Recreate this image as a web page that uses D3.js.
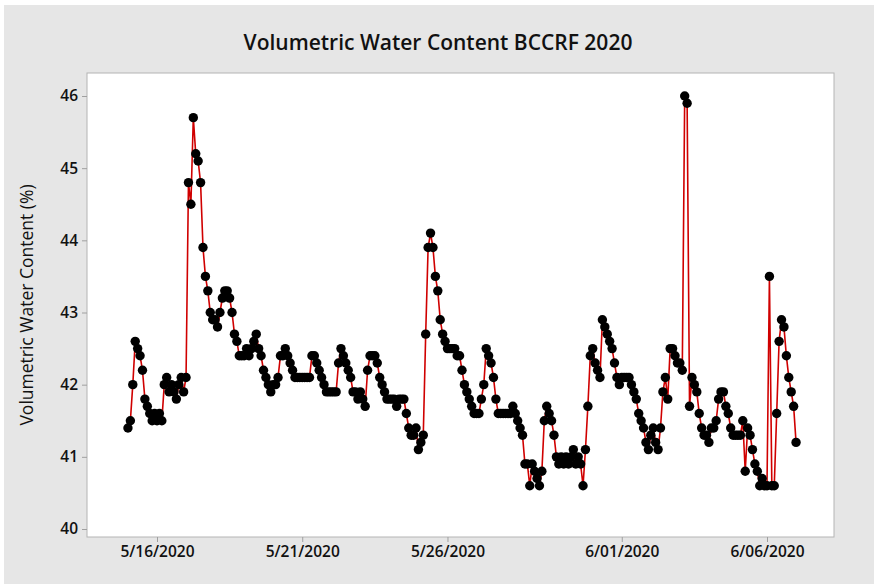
<!DOCTYPE html>
<html>
<head>
<meta charset="utf-8">
<script src="https://cdn.jsdelivr.net/npm/d3@7"></script>
<style>
  body { margin: 0; background: #fff; }
  svg { display: block; font-family: "Open Sans", "DejaVu Sans", sans-serif; }
</style>
</head>
<body>
<svg id="chart" width="876" height="584"></svg>
<script>
// podatki - vsebnost vode, meritev na 2 uri od 15.5.2020 00:00
var startTime = new Date(2020, 4, 15, 0, 0);
var stepHours = 2;

var week1 = [
  41.4, 41.5, 42.0, 42.6, 42.5, 42.4, 42.2, 41.8, 41.7, 41.6, 41.5, 41.6, // 5/15
  41.5, 41.6, 41.5, 42.0, 42.1, 41.9, 42.0, 41.9, 41.8, 42.0, 42.1, 41.9, // 5/16
  42.1, 44.8, 44.5, 45.7, 45.2, 45.1, 44.8, 43.9, 43.5, 43.3, 43.0, 42.9, // 5/17
  42.9, 42.8, 43.0, 43.2, 43.3, 43.3, 43.2, 43.0, 42.7, 42.6, 42.4, 42.4, // 5/18
  42.4, 42.5, 42.4, 42.5, 42.6, 42.7, 42.5, 42.4, 42.2, 42.1, 42.0, 41.9, // 5/19
  42.0, 42.0, 42.1, 42.4, 42.4, 42.5, 42.4, 42.3, 42.2, 42.1, 42.1, 42.1, // 5/20
  42.1, 42.1, 42.1, 42.1, 42.4, 42.4, 42.3, 42.2, 42.1, 42.0, 41.9, 41.9  // 5/21
];
var week2 = [
  41.9, 41.9, 41.9, 42.3, 42.5, 42.4, 42.3, 42.2, 42.1, 41.9, 41.9, 41.8, // 5/22
  41.9, 41.8, 41.7, 42.2, 42.4, 42.4, 42.4, 42.3, 42.1, 42.0, 41.9, 41.8, // 5/23
  41.8, 41.8, 41.8, 41.7, 41.8, 41.8, 41.8, 41.6, 41.4, 41.3, 41.3, 41.4, // 5/24
  41.1, 41.2, 41.3, 42.7, 43.9, 44.1, 43.9, 43.5, 43.3, 42.9, 42.7, 42.6, // 5/25
  42.5, 42.5, 42.5, 42.5, 42.4, 42.4, 42.2, 42.0, 41.9, 41.8, 41.7, 41.6, // 5/26
  41.6, 41.6, 41.8, 42.0, 42.5, 42.4, 42.3, 42.1, 41.8, 41.6, 41.6, 41.6, // 5/27
  41.6, 41.6, 41.6, 41.7, 41.6, 41.5, 41.4, 41.3, 40.9, 40.9, 40.6, 40.9  // 5/28
];
var week3 = [
  40.8, 40.7, 40.6, 40.8, 41.5, 41.7, 41.6, 41.5, 41.3, 41.0, 40.9, 41.0, // 5/29
  40.9, 41.0, 40.9, 41.0, 41.1, 40.9, 41.0, 40.9, 40.6, 41.1, 41.7, 42.4, // 5/30
  42.5, 42.3, 42.2, 42.1, 42.9, 42.8, 42.7, 42.6, 42.5, 42.3, 42.1, 42.0, // 5/31
  42.1, 42.1, 42.1, 42.1, 42.0, 41.9, 41.8, 41.6, 41.5, 41.4, 41.2, 41.1, // 6/01
  41.3, 41.4, 41.2, 41.1, 41.4, 41.9, 42.1, 41.8, 42.5, 42.5, 42.4, 42.3, // 6/02
  42.3, 42.2, 46.0, 45.9, 41.7, 42.1, 42.0, 41.9, 41.6, 41.4, 41.3, 41.3, // 6/03
  41.2, 41.4, 41.4, 41.5, 41.8, 41.9, 41.9, 41.7, 41.6, 41.4, 41.3, 41.3  // 6/04
];
var week4 = [
  41.3, 41.3, 41.5, 40.8, 41.4, 41.3, 41.1, 40.9, 40.8, 40.6, 40.7, 40.6, // 6/05
  40.6, 43.5, 40.6, 40.6, 41.6, 42.6, 42.9, 42.8, 42.4, 42.1, 41.9, 41.7, // 6/06
  41.2                                                                    // 6/07
];

var tickDates = [new Date(2020, 4, 16), new Date(2020, 4, 21), new Date(2020, 4, 26),
                 new Date(2020, 5, 1), new Date(2020, 5, 6)];
var tickLabels = ["5/16/2020", "5/21/2020", "5/26/2020", "6/01/2020", "6/06/2020"];
var yTicks = [40, 41, 42, 43, 44, 45, 46];

var title = "Volumetric Water Content BCCRF 2020";
var yLabel = "Volumetric Water Content (%)";

// --------------------------------------------------------------------------

var vwc = week1.concat(week2, week3, week4);
var data = vwc.map(function(v, i) {
  return { t: d3.timeHour.offset(startTime, i * stepHours), v: v };
});

var plot = { left: 87, top: 73, right: 834, bottom: 537 };

var svg = d3.select("#chart");

// sivo ozadje
svg.append("rect")
  .attr("x", 4).attr("y", 5)
  .attr("width", 870).attr("height", 584)
  .attr("fill", "#e6e6e6");

svg.append("rect")
  .attr("x", plot.left).attr("y", plot.top)
  .attr("width", plot.right - plot.left)
  .attr("height", plot.bottom - plot.top)
  .attr("fill", "#fff")
  .attr("stroke", "#b4b4b4")
  .attr("stroke-width", 1);

var x = d3.scaleTime()
  .domain([tickDates[0], tickDates[4]])
  .range([157, 767]);

var y = d3.scaleLinear()
  .domain([40, 46])
  .range([529, 96]);

// osi
var xAxis = svg.append("g")
  .attr("transform", `translate(0, ${plot.bottom})`)
  .call(d3.axisBottom(x).tickValues(tickDates)
    .tickFormat(function(d, i) { return tickLabels[i]; })
    .tickSize(5).tickPadding(4));

var yAxis = svg.append("g")
  .attr("transform", `translate(${plot.left}, 0)`)
  .call(d3.axisLeft(y).tickValues(yTicks).tickFormat(d3.format("d"))
    .tickSize(5).tickPadding(4));

[xAxis, yAxis].forEach(function(a) {
  a.select(".domain").remove();
  a.selectAll(".tick line").attr("stroke", "#a0a0a0");
  a.selectAll(".tick text")
    .attr("fill", "#111")
    .style("font-size", "15.5px")
    .style("font-weight", "600")
    .style("font-family", "'Open Sans', sans-serif");
});

// crta in tocke
var line = d3.line()
  .x(function(d) { return x(d.t); })
  .y(function(d) { return y(d.v); });

svg.append("path")
  .datum(data)
  .attr("fill", "none")
  .attr("stroke", "#d00000")
  .attr("stroke-width", 1.6)
  .attr("d", line);

svg.append("g")
  .selectAll("circle")
  .data(data)
  .enter().append("circle")
    .attr("cx", function(d) { return x(d.t); })
    .attr("cy", function(d) { return y(d.v); })
    .attr("r", 4.7)
    .attr("fill", "#000");

// naslovi
svg.append("text")
  .attr("x", 438)
  .attr("y", 50)
  .attr("text-anchor", "middle")
  .style("font-size", "21px")
  .style("font-weight", "600")
  .style("fill", "#111")
  .text(title);

svg.append("text")
  .attr("transform", "translate(33, 305) rotate(-90)")
  .attr("text-anchor", "middle")
  .style("font-size", "17.5px")
  .style("fill", "#111")
  .text(yLabel);
</script>
</body>
</html>
